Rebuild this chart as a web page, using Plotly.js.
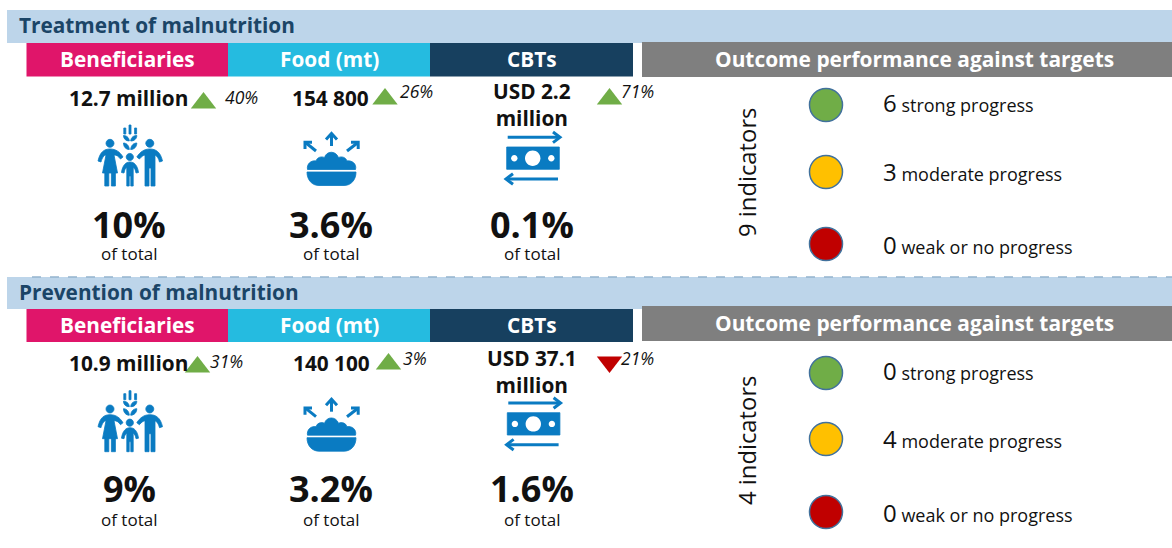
<!DOCTYPE html>
<html><head><meta charset="utf-8">
<script src="https://cdn.plot.ly/plotly-3.0.1.min.js"></script>
<style>html,body{margin:0;padding:0;background:#fff}#c{width:1172px;height:548px}</style>
</head><body><div id="c"></div>
<script>
// ---- data ----
const sections = ["Treatment of malnutrition", "Prevention of malnutrition"];
const headers = ["Beneficiaries", "Food (mt)", "CBTs"];
const outcomeTitle = "Outcome performance against targets";
const amounts = [
  ["12.7 million", "154 800", "USD 2.2<br>million"],
  ["10.9 million", "140 100", "USD 37.1<br>million"]
];
const changes = [[40, 26, 71], [31, 3, -21]];
const shares = [["10%", "3.6%", "0.1%"], ["9%", "3.2%", "1.6%"]];
const shareNote = "of total";
const indicatorLabels = ["9 indicators", "4 indicators"];
const progressNames = ["strong progress", "moderate progress", "weak or no progress"];
const progressCounts = [[6, 3, 0], [0, 4, 0]];

// ---- layout constants (pixels = axis units) ----
const FONT = '"Open Sans", "Noto Sans", sans-serif';
const INK = "#111111", BLUE = "#0A7BC2", NAVY = "#1B4567";
const headColors = ["#E0156A", "#25BBE0", "#17405F"];
const progressColors = ["#70AD47", "#FFC000", "#C00000"];
const rowDy = [0, 265.7];
const bandY = [[10, 43], [277, 309]];
const headY = [[43, 76.5], [309, 342]];
const greyY = [[42, 77], [306, 341]];
const headX = [26.5, 228, 430, 633];
const centerX = [129, 330.5, 532];
const amountPos = [
  [[128.5, 98], [330.5, 98], [532, 104]],
  [[128.5, 363], [331, 363], [531.5, 371]]
];
const triPos = [
  [[203.5, 103], [385, 99], [609.5, 99]],
  [[197.5, 367], [388.5, 364], [609.5, 362]]
];
const pctPos = [
  [[224, 97], [399, 91], [620, 91]],
  [[209, 361], [402, 358], [620, 358]]
];
const shareY = [224, 488], noteY = [253.5, 519.5];
const indicatorPos = [[747, 173], [747, 441]];
const circleY = [[105, 172, 244], [373, 439, 512]];
const labelY = [[102, 171.5, 244.5], [370, 438.5, 512.5]];
const circleX = 826, countX = 882;

const shapes = [], ann = [];
function rect(x0, y0, x1, y1, fill) {
  shapes.push({type: "rect", xref: "x", yref: "y", x0, y0, x1, y1, fillcolor: fill, line: {width: 0}, layer: "below"});
}
function text(t, x, y, size, opts) {
  ann.push(Object.assign({text: t, x, y, xref: "x", yref: "y", showarrow: false, xanchor: "center", yanchor: "middle",
    font: {family: FONT, size, color: INK}, borderpad: 0}, opts || {}));
}
function bold(s) { return "<b>" + s + "</b>"; }
function circlePath(cx, cy, r) {
  const k = r * 0.5523;
  return `M${cx - r},${cy} C${cx - r},${cy - k} ${cx - k},${cy - r} ${cx},${cy - r} ` +
    `C${cx + k},${cy - r} ${cx + r},${cy - k} ${cx + r},${cy} C${cx + r},${cy + k} ${cx + k},${cy + r} ${cx},${cy + r} ` +
    `C${cx - k},${cy + r} ${cx - r},${cy + k} ${cx - r},${cy} Z`;
}
function shift(path, dy) {
  return path.replace(/(-?[\d.]+),(-?[\d.]+)/g, (m, a, b) => a + "," + (parseFloat(b) + dy));
}
function fillPath(p, dy, color) {
  const white = !!color;
  shapes.push({type: "path", xref: "x", yref: "y", path: shift(p, dy), fillcolor: color || BLUE,
    line: white ? {width: 0} : {width: 0.8, color: BLUE}});
}
function strokePath(p, dy, w) {
  shapes.push({type: "path", xref: "x", yref: "y", path: shift(p, dy), fillcolor: "rgba(0,0,0,0)", line: {width: w, color: BLUE}});
}

function familyIcon(dy) {
  [[110, 143.3, 4], [149.8, 143.3, 4], [129.8, 157, 3.6]].forEach(c => fillPath(circlePath(c[0], c[1], c[2]), dy));
  // woman
  fillPath("M110,149 C104,149 100,152 98,161 L101,162 C102,158 104,155 106,155 L102.5,173 L117.5,173 L114,155 C117,155 118,156 120.5,159 L123,157 C120,152 116,149 110,149 Z", dy);
  fillPath("M104.8,172 L108.8,172 L108.8,186 L104.8,186 Z", dy);
  fillPath("M111.4,172 L115.4,172 L115.4,186 L111.4,186 Z", dy);
  // man
  fillPath("M149.8,149 C144,149 140,152 136.8,157 L139.4,159 C141.5,156.5 143,155.5 145,155 L145,186 L149,186 L149,168 L151,168 L151,186 L155,186 L155,155 C157,156 158.5,158 159.5,162 L162.5,161 C160.5,152 156,149 149.8,149 Z", dy);
  // child
  fillPath("M130,162 C126,162 122.5,165 121.5,172.5 L124,173 C124.5,170 125.5,168 126.8,167.5 L126.8,186 L129.2,186 L129.2,176 L130.8,176 L130.8,186 L133.2,186 L133.2,167.5 C134.5,168 135.5,170 136,173 L138.5,172.5 C137.5,165 134,162 130,162 Z", dy);
  // wheat
  fillPath("M129,125 L131,125 L131,134 L129,134 Z", dy);
  fillPath("M123.8,128 L125.8,128 L125.8,134 L123.8,134 Z", dy);
  fillPath("M134.6,128 L136.6,128 L136.6,134 L134.6,134 Z", dy);
  fillPath("M123.5,135.5 C126,135.5 129,137 129.3,141 C126,141 123.5,139 123.5,135.5 Z", dy);
  fillPath("M136.8,135.5 C134,135.5 131,137 130.7,141 C134,141 136.8,139 136.8,135.5 Z", dy);
  fillPath("M123.5,143 C126,143 129,145 129.3,149.5 C126,149.5 123.5,147 123.5,143 Z", dy);
  fillPath("M136.8,143 C134,143 131,145 130.7,149.5 C134,149.5 136.8,147 136.8,143 Z", dy);
}
function bowlIcon(dy) {
  fillPath("M307.5,169.5 C306.5,164 311,160 316,161 C317,157.5 321,156 324.5,157.5 C326.5,150.5 336,150.5 338.5,157.5 C342,156 346,157.5 347,161 C352,160 357,164 355.5,169.5 Z", dy);
  fillPath("M307,172 L356,172 C356,180 351,185.5 344,185.5 L319,185.5 C312,185.5 307,180 307,172 Z", dy);
  strokePath("M331.5,146 L331.5,134", dy, 3);
  strokePath("M326,139.5 L331.5,133.5 L337,139.5", dy, 3);
  strokePath("M316,151 L305.5,142.5", dy, 3);
  strokePath("M305,149 L305,142.2 L312,142.2", dy, 3);
  strokePath("M347,151 L358,142.5", dy, 3);
  strokePath("M351,142.2 L358.2,142.2 L358.2,149", dy, 3);
}
function cashIcon(dy, dx) {
  const p = s => s.replace(/(-?[\d.]+),(-?[\d.]+)/g, (m, a, b) => (parseFloat(a) + dx) + "," + b);
  fillPath(p("M506.7,147 L559.3,147 L559.3,169.3 L506.7,169.3 Z"), dy);
  fillPath(p(circlePath(532.7, 158.2, 7.7)), dy, "#FFFFFF");
  fillPath(p(circlePath(514.3, 158.2, 3.2)), dy, "#FFFFFF");
  fillPath(p(circlePath(551.3, 158.2, 3.2)), dy, "#FFFFFF");
  strokePath(p("M507.7,137.3 L559.5,137.3"), dy, 3);
  strokePath(p("M553,132 L560,137.3 L553,142.6"), dy, 3);
  strokePath(p("M558,179 L507,179"), dy, 3);
  strokePath(p("M513,173.7 L506,179 L513,184.3"), dy, 3);
}

const triX = [], triY = [], triSym = [], triCol = [];
const circX = [], circY = [], circCol = [];
sections.forEach((title, r) => {
  rect(7, bandY[r][0], 1172, bandY[r][1], "#BDD5EA");
  headers.forEach((h, i) => {
    rect(headX[i], headY[r][0], headX[i + 1], headY[r][1], headColors[i]);
    text(bold(h), (headX[i] + headX[i + 1]) / 2, (headY[r][0] + headY[r][1]) / 2 - 1, 20.8, {font: {family: FONT, size: 20.8, color: "#fff"}});
    text(bold(amounts[r][i]), amountPos[r][i][0], amountPos[r][i][1], 20.8);
    const up = changes[r][i] >= 0;
    triX.push(triPos[r][i][0]); triY.push(triPos[r][i][1]);
    triSym.push(up ? "triangle-up" : "triangle-down");
    triCol.push(up ? "#70AD47" : "#C00000");
    text("<i>" + Math.abs(changes[r][i]) + "%</i>", pctPos[r][i][0], pctPos[r][i][1], 17.5, {xanchor: "left"});
    text(bold(shares[r][i]), centerX[i], shareY[r], 36);
    text(shareNote, centerX[i], noteY[r], 17);
  });
  rect(642, greyY[r][0], 1172, greyY[r][1], "#7F7F7F");
  text(bold(title), 18, (bandY[r][0] + bandY[r][1]) / 2 - 1.5, 20.8, {xanchor: "left", font: {family: FONT, size: 20.8, color: NAVY}});
  text(bold(outcomeTitle), 914, (greyY[r][0] + greyY[r][1]) / 2 - 1, 20.9, {font: {family: FONT, size: 20.9, color: "#fff"}});
  text(indicatorLabels[r], indicatorPos[r][0], indicatorPos[r][1], 23.8, {textangle: -90});
  progressNames.forEach((n, k) => {
    circX.push(circleX); circY.push(circleY[r][k]); circCol.push(progressColors[k]);
    text('<span style="font-size:24px">' + progressCounts[r][k] + "</span> " + n, countX, labelY[r][k], 18, {xanchor: "left"});
  });
  familyIcon(rowDy[r]);
  bowlIcon(rowDy[r]);
  cashIcon(rowDy[r], r ? 0.6 : 0);
});
shapes.push({type: "line", xref: "x", yref: "y", x0: 32, x1: 1172, y0: 277, y1: 277, line: {color: "#94B4CE", width: 1.5, dash: "dash"}});

const traces = [
  {type: "scatter", mode: "markers", x: triX, y: triY, hoverinfo: "skip",
   marker: {symbol: triSym, color: triCol, size: 22, line: {width: 0}}},
  {type: "scatter", mode: "markers", x: circX, y: circY, hoverinfo: "skip",
   marker: {symbol: "circle", color: circCol, size: 33, line: {width: 1.5, color: "#41719C"}}}
];
const axis = {visible: false, fixedrange: true, showgrid: false, zeroline: false};
Plotly.newPlot("c", traces, {
  width: 1172, height: 548, margin: {l: 0, r: 0, t: 0, b: 0},
  paper_bgcolor: "#fff", plot_bgcolor: "#fff", showlegend: false,
  xaxis: Object.assign({range: [0, 1172]}, axis),
  yaxis: Object.assign({range: [548, 0]}, axis),
  shapes, annotations: ann
}, {displayModeBar: false, staticPlot: true});
</script></body></html>
